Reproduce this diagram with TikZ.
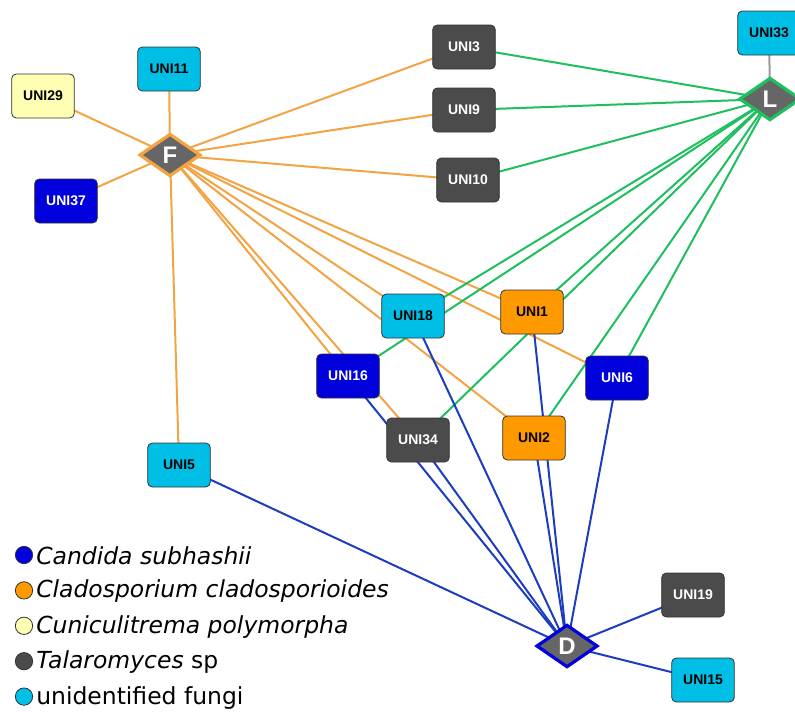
\documentclass[tikz,border=0pt]{standalone}
\usepackage{fontspec}
\setmainfont{DejaVu Sans}
\newfontfamily\unifont{Liberation Sans}
\usetikzlibrary{shapes.geometric,backgrounds}

\definecolor{cyanfill}{HTML}{00BFE7}
\definecolor{darkfill}{HTML}{4B4B4B}
\definecolor{bluefill}{HTML}{0000DD}
\definecolor{orangefill}{HTML}{FF9900}
\definecolor{yellowfill}{HTML}{FFFFB3}
\definecolor{hubfill}{HTML}{666666}
\definecolor{fedge}{HTML}{F2A444}
\definecolor{ledge}{HTML}{1DBF5E}
\definecolor{dedge}{HTML}{1C3DBE}

\begin{document}
\begin{tikzpicture}[x=0.75pt,y=-0.75pt,
    uni/.style={draw=black!80, line width=0.6pt, rounded corners=3.5pt,
      minimum width=47pt, minimum height=33pt, inner sep=0pt,
      font=\unifont\bfseries\fontsize{10.5}{12}\selectfont},
    hub/.style={diamond, fill=hubfill, line width=2.4pt, minimum width=46pt,
      minimum height=32pt, inner sep=0pt, text=white,
      font=\unifont\bfseries\fontsize{18}{20}\selectfont},
    link/.style={line width=1.5pt},
    legdot/.style={circle, draw=black!80, line width=0.6pt, minimum size=13pt, inner sep=0pt}
  ]
  \useasboundingbox (0,0) rectangle (795,711);

  % hubs
  \node[hub, draw=fedge] (F) at (170,155) {F};
  \node[hub, draw=ledge] (L) at (770,99) {L};
  \node[hub, draw=bluefill] (D) at (567,646) {D};

  % taxa
  \foreach \name/\x/\y/\fc/\tc in {
    UNI29/43/96/yellowfill/black, UNI11/169/69/cyanfill/black,
    UNI37/66/201/bluefill/white, UNI3/464/47/darkfill/white,
    UNI9/464/110/darkfill/white, UNI10/468/180/darkfill/white,
    UNI33/769/33/cyanfill/black, UNI18/413/316/cyanfill/black,
    UNI1/532/312/orangefill/black, UNI16/348/376/bluefill/white,
    UNI6/617/378/bluefill/white, UNI34/418/440/darkfill/white,
    UNI2/534/438/orangefill/black, UNI5/179/465/cyanfill/black,
    UNI19/693/595/darkfill/white, UNI15/703/680/cyanfill/black}{
    \node[uni, fill=\fc, text=\tc] (\name) at (\x,\y) {\name};
  };

  % links
  \begin{scope}[on background layer]
    \foreach \t in {UNI29,UNI11,UNI37,UNI3,UNI9,UNI10,UNI18,UNI1,UNI6,UNI2,UNI16,UNI34,UNI5}
      \draw[link, fedge] (F.center) -- (\t.center);
    \foreach \t in {UNI3,UNI9,UNI10,UNI18,UNI16,UNI1,UNI34,UNI2,UNI6}
      \draw[link, ledge] (L.center) -- (\t.center);
    \foreach \t in {UNI5,UNI16,UNI34,UNI18,UNI1,UNI2,UNI6,UNI19,UNI15}
      \draw[link, dedge] (D.center) -- (\t.center);
    \draw[link, gray!80] (L.center) -- (UNI33.center);
  \end{scope}

  % legend
  \foreach \fc/\txt [count=\i] in {
    bluefill/{\textit{Candida subhashii}},
    orangefill/{\textit{Cladosporium cladosporioides}},
    yellowfill/{\textit{Cuniculitrema polymorpha}},
    darkfill/{\textit{Talaromyces} sp},
    cyanfill/{unidentified fungi}}{
    \node[legdot, fill=\fc] (dot\i) at (24,{555+(\i-1)*35.4}) {};
    \node[anchor=west, inner sep=0pt, font=\fontsize{17.6}{20}\selectfont] (leg\i) at (36,{556+(\i-1)*35.4}) {\txt};
  };
\end{tikzpicture}
\end{document}
